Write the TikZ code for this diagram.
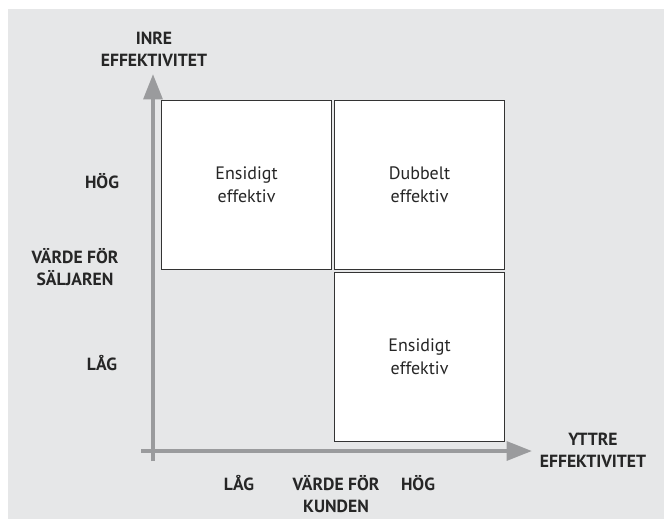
\documentclass[tikz,border=0pt]{standalone}
\usepackage{fontspec}
\setmainfont{PT Sans}
\usetikzlibrary{arrows.meta}
\definecolor{bg}{HTML}{E6E7E8}
\definecolor{axis}{HTML}{9A9B9D}
\definecolor{edge}{HTML}{333333}
\tikzset{
  lbl/.style={font=\fontsize{13.2}{16.5}\selectfont\bfseries, text=black!85, align=center, inner sep=0pt},
  cell/.style={draw=edge, line width=0.8pt, fill=white, minimum width=127.5pt, minimum height=126.75pt, inner sep=0pt, anchor=north west, align=center, font=\fontsize{13.5}{17.2}\selectfont, text=black!85},
  ax/.style={draw=axis, line width=3pt, -{Triangle[length=19pt,width=14pt]}}
}
\begin{document}
\begin{tikzpicture}[x=0.75pt,y=-0.75pt]
\useasboundingbox (0,0) rectangle (664,519);
\fill[bg] (8,9) rectangle (664,519);
% cells
\node[cell] (tl) at (161,100) {Ensidigt\\effektiv};
\node[cell] (tr) at (334,100) {Dubbelt\\effektiv};
\node[cell] (br) at (334,272) {Ensidigt\\effektiv};
% axes
\coordinate (ys) at (153,461);
\coordinate (ye) at (153,74);
\coordinate (xs) at (141,451);
\coordinate (xe) at (532,451);
\draw[ax] (ys) -- (ye);
\draw[ax] (xs) -- (xe);
% labels
\node[lbl] (inre) at (154,49) {INRE\\EFFEKTIVITET};
\node[lbl] (hogy) at (102,181) {HÖG};
\node[lbl] (vfs) at (75,267) {VÄRDE FÖR\\SÄLJAREN};
\node[lbl] (lagy) at (102,363) {LÅG};
\node[lbl] (lagx) at (239,483) {LÅG};
\node[lbl] (vfk) at (336,494) {VÄRDE FÖR\\KUNDEN};
\node[lbl] (hogx) at (418,483) {HÖG};
\node[lbl] (yttre) at (593,450) {YTTRE\\EFFEKTIVITET};
\end{tikzpicture}
\end{document}
